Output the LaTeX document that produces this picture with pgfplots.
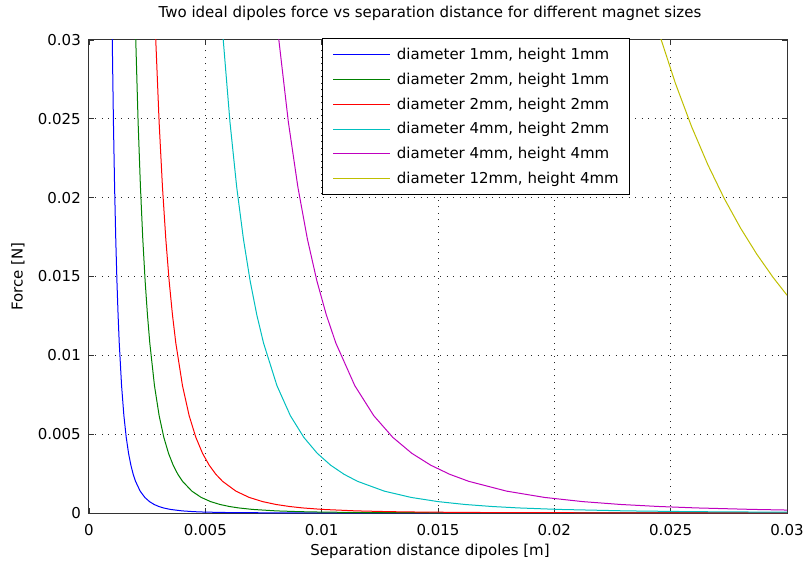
\documentclass[border=0pt]{standalone}
\usepackage{pgfplots}
\pgfplotsset{compat=1.18}
\usepackage{fontspec}
\setmainfont{DejaVu Sans}
\newcommand{\fs}{\fontsize{15bp}{18bp}\selectfont}
\definecolor{mblue}{rgb}{0,0,1}
\definecolor{mgreen}{rgb}{0,0.5,0}
\definecolor{mred}{rgb}{1,0,0}
\definecolor{mcyan}{rgb}{0,0.75,0.75}
\definecolor{mmagenta}{rgb}{0.75,0,0.75}
\definecolor{myellow}{rgb}{0.75,0.75,0}
\begin{document}
\begin{tikzpicture}[font=\fs]
\begin{axis}[
  scale only axis,
  width=698bp, height=473bp,
  xmin=0, xmax=0.03, ymin=0, ymax=0.03,
  xtick={0,0.005,0.01,0.015,0.02,0.025,0.03},
  ytick={0,0.005,0.01,0.015,0.02,0.025,0.03},
  scaled ticks=false,
  /pgf/number format/assume math mode=true,
  tick label style={font=\fs, /pgf/number format/fixed, /pgf/number format/precision=3},
  xticklabel style={anchor=base, yshift=-22.7bp},
  yticklabel style={anchor=east, inner sep=0pt, xshift=-8bp},
  tick align=inside,
  major tick length=5bp,
  tick style={black!80, line width=0.8bp},
  axis line style={black!80, line width=1bp},
  grid=major,
  major grid style={black!85, line width=1bp, dash pattern=on 1bp off 5.5bp},
  title={Two ideal dipoles force vs separation distance for different magnet sizes},
  title style={font=\fs, at={(axis description cs:0.4885,1)}, anchor=base, yshift=16.5bp},
  xlabel={Separation distance dipoles [m]},
  xlabel style={font=\fs, at={(axis description cs:0.4885,0)}, anchor=base, yshift=-42bp},
  ylabel={Force [N]},
  ylabel style={font=\fs, at={(axis description cs:-0.1017,0.5)}, anchor=center},
  legend cell align=left,
  legend image code/.code={\draw[#1] (0bp,0bp) -- (57bp,0bp);},
  legend style={font=\fs, at={(axis description cs:0.3334,1.0036)}, anchor=north west,
    draw=black, line width=1.2bp, fill=white,
    inner xsep=10.6bp, inner ysep=9bp, row sep=12bp,
    nodes={inner sep=0pt, text depth=0.15em},
    cells={anchor=west},
    /tikz/every odd column/.append style={column sep=6bp}},
  every axis plot/.append style={line width=1bp},
]
\addplot[mblue] coordinates {
(0.00097,0.033784)(0.001,0.03)(0.00105,0.024802)(0.0011,0.020687)(0.00115,0.017395)(0.0012,0.014734)(0.00125,0.012565)(0.0013,0.010783)(0.0014,0.0080762)(0.0015,0.0061709)(0.0016,0.0047987)(0.0017,0.0037878)(0.0018,0.0030313)(0.0019,0.0024547)(0.002,0.0020096)(0.0022,0.0013858)(0.0024,0.00098685)(0.0026,0.00072255)(0.0028,0.00054108)(0.003,0.0004134)(0.0032,0.00032136)(0.0035,0.00022654)(0.004,0.00013459)(0.0045,8.5008e-5)(0.005,5.6367e-5)(0.006,2.768e-5)(0.008,9.0135e-6)(0.01,3.7767e-6)(0.015,7.7646e-7)(0.02,2.5298e-7)(0.03,5.2e-8)
};
\addlegendentry{diameter 1mm, height 1mm}
\addplot[mgreen] coordinates {
(0.0019497,0.033784)(0.00201,0.03)(0.0021105,0.024802)(0.002211,0.020687)(0.0023115,0.017395)(0.002412,0.014734)(0.0025125,0.012565)(0.002613,0.010783)(0.002814,0.0080762)(0.003015,0.0061709)(0.003216,0.0047987)(0.003417,0.0037878)(0.003618,0.0030313)(0.003819,0.0024547)(0.00402,0.0020096)(0.004422,0.0013858)(0.004824,0.00098685)(0.005226,0.00072255)(0.005628,0.00054108)(0.00603,0.0004134)(0.006432,0.00032136)(0.007035,0.00022654)(0.00804,0.00013459)(0.009045,8.5008e-5)(0.01005,5.6367e-5)(0.01206,2.768e-5)(0.01608,9.0135e-6)(0.0201,3.7767e-6)(0.03,7.9e-7)
};
\addlegendentry{diameter 2mm, height 1mm}
\addplot[mred] coordinates {
(0.0027839,0.033784)(0.00287,0.03)(0.0030135,0.024802)(0.003157,0.020687)(0.0033005,0.017395)(0.003444,0.014734)(0.0035875,0.012565)(0.003731,0.010783)(0.004018,0.0080762)(0.004305,0.0061709)(0.004592,0.0047987)(0.004879,0.0037878)(0.005166,0.0030313)(0.005453,0.0024547)(0.00574,0.0020096)(0.006314,0.0013858)(0.006888,0.00098685)(0.007462,0.00072255)(0.008036,0.00054108)(0.00861,0.0004134)(0.009184,0.00032136)(0.010045,0.00022654)(0.01148,0.00013459)(0.012915,8.5008e-5)(0.01435,5.6367e-5)(0.01722,2.768e-5)(0.02296,9.0135e-6)(0.03,3.18e-6)
};
\addlegendentry{diameter 2mm, height 2mm}
\addplot[mcyan] coordinates {
(0.0055969,0.033784)(0.00577,0.03)(0.0060585,0.024802)(0.006347,0.020687)(0.0066355,0.017395)(0.006924,0.014734)(0.0072125,0.012565)(0.007501,0.010783)(0.008078,0.0080762)(0.008655,0.0061709)(0.009232,0.0047987)(0.009809,0.0037878)(0.010386,0.0030313)(0.010963,0.0024547)(0.01154,0.0020096)(0.012694,0.0013858)(0.013848,0.00098685)(0.015002,0.00072255)(0.016156,0.00054108)(0.01731,0.0004134)(0.018464,0.00032136)(0.020195,0.00022654)(0.02308,0.00013459)(0.025965,8.5008e-5)(0.03,4.84e-5)
};
\addlegendentry{diameter 4mm, height 2mm}
\addplot[mmagenta] coordinates {
(0.0079152,0.033784)(0.00816,0.03)(0.008568,0.024802)(0.008976,0.020687)(0.009384,0.017395)(0.009792,0.014734)(0.0102,0.012565)(0.010608,0.010783)(0.011424,0.0080762)(0.01224,0.0061709)(0.013056,0.0047987)(0.013872,0.0037878)(0.014688,0.0030313)(0.015504,0.0024547)(0.01632,0.0020096)(0.017952,0.0013858)(0.019584,0.00098685)(0.021216,0.00072255)(0.022848,0.00054108)(0.02448,0.0004134)(0.026112,0.00032136)(0.02856,0.00022654)(0.03,0.00018693)
};
\addlegendentry{diameter 4mm, height 4mm}
\addplot[myellow] coordinates {
(0.0238,0.033538)(0.0245,0.030432)(0.0252,0.027266)(0.0259,0.024503)(0.0266,0.022082)(0.0273,0.019955)(0.0280,0.018079)(0.0287,0.016419)(0.0294,0.014946)(0.0300,0.013814)
};
\addlegendentry{diameter 12mm, height 4mm}
\end{axis}
\pgfresetboundingbox
\path ([xshift=-89bp,yshift=-50bp]current axis.south west) rectangle ([xshift=16bp,yshift=40bp]current axis.north east);
\end{tikzpicture}
\end{document}
